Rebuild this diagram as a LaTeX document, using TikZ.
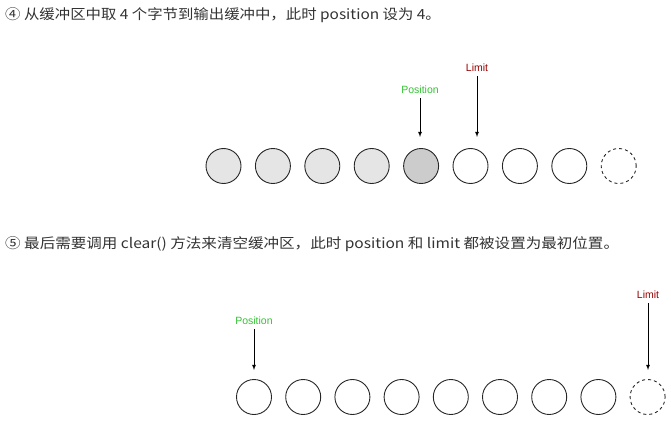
\documentclass[tikz,border=0pt]{standalone}
\usepackage{fontspec}
\setmainfont{Liberation Sans}
\newfontfamily\cjk{Noto Sans CJK SC}
\begin{document}
\begin{tikzpicture}[x=1pt,y=-1pt,
  cell/.style={circle,draw=black!85,line width=0.9pt,minimum size=35pt,inner sep=0pt},
  lbl/.style={font=\fontsize{10.5}{12}\selectfont,inner sep=0pt},
  hdr/.style={font=\cjk\fontsize{14}{16}\selectfont,text=black!80,anchor=west,inner sep=0pt},
  arr/.style={-latex,line width=0.8pt}]
\useasboundingbox (0,0) rectangle (671,430);
\node[hdr] (h1) at (5,15) {\scalebox{1.1}[1]{④ 从缓冲区中取 4 个字节到输出缓冲中，此时 position 设为 4。}};
\node[hdr] (h2) at (5,244) {\scalebox{1.11}[1]{⑤ 最后需要调用 clear() 方法来清空缓冲区，此时 position 和 limit 都被设置为最初位置。}};
\foreach \i/\f in {1/black!10,2/black!10,3/black!10,4/black!10,5/black!20,6/white,7/white,8/white}
  \node[cell,fill=\f] (a\i) at ({223.5+(\i-1)*49.4},166) {};
\node[cell,dashed] (a9) at ({223.5+8*49.4},166) {};
\node[lbl,text=green!70!black!80] (p1) at (420,90) {Position};
\node[lbl,text=red!60!black] (l1) at (477,68) {Limit};
\draw[arr] (p1.south)++(0,4) coordinate (p1s) -- (420,137);
\draw[arr] (l1.south)++(0,4) coordinate (l1s) -- (477,137);
\foreach \i in {1,...,8}
  \node[cell] (b\i) at ({254+(\i-1)*49.2},397) {};
\node[cell,dashed] (b9) at ({254+8*49.2},397) {};
\node[lbl,text=green!70!black!80] (p2) at (254,321) {Position};
\node[lbl,text=red!60!black] (l2) at (648,295) {Limit};
\draw[arr] (p2.south)++(0,4) -- (254,370);
\draw[arr] (l2.south)++(0,4) -- (648,370);
\end{tikzpicture}
\end{document}
